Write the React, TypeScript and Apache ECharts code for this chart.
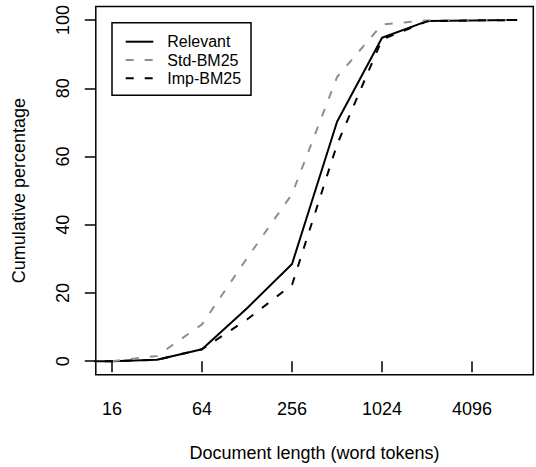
import React, { useEffect, useRef } from "react";
import * as echarts from "echarts";

// Document lengths (word tokens), one entry per bin
const lengths = [8, 16, 32, 64, 128, 256, 512, 1024, 2048, 4096, 8192];
// Cumulative percentages per series
const relevant = [0, 0, 0.4, 3.5, 15.5, 28.5, 70.2, 94.8, 99.7, 99.9, 100];
const stdBM25 = [null, 0, 1.5, 10.8, 30.2, 49, 83.3, 98.7, 99.9, 100, 100];
const impBM25 = [0, 0, 0.4, 3.5, 12.2, 22.4, 63.5, 94.3, 99.6, 99.9, 100];
// Tick labels
const xTicks = [16, 64, 256, 1024, 4096];
const yTicks = [0, 20, 40, 60, 80, 100];
const seriesNames = ["Relevant", "Std-BM25", "Imp-BM25"];
const seriesColors = ["#000000", "#8f8f8f", "#000000"];
const seriesDash: (number[] | null)[] = [null, [8, 11], [8, 11]];

export default function App() {
  const ref = useRef<HTMLDivElement>(null);
  useEffect(() => {
    const chart = echarts.init(ref.current as HTMLDivElement, null, { renderer: "svg" });
    const font = "'Liberation Sans', Arial, Helvetica, sans-serif";
    const toPts = (vals: (number | null)[]) =>
      lengths.map((l, i) => [Math.log2(l), vals[i]]);
    chart.setOption({
      animation: false,
      backgroundColor: "#ffffff",
      textStyle: { fontFamily: font },
      grid: {
        left: 95.8,
        right: 2.7,
        top: 6.4,
        bottom: 92.2,
        show: true,
        borderColor: "#000",
        borderWidth: 1.5,
        backgroundColor: "transparent",
      },
      xAxis: {
        type: "value",
        min: 3.64,
        max: 13.36,
        splitLine: { show: false },
        axisLine: { show: false },
        axisTick: {
          show: true,
          length: 11,
          customValues: xTicks.map((v) => Math.log2(v)),
          lineStyle: { color: "#000", width: 1.5 },
        },
        axisLabel: {
          customValues: xTicks.map((v) => Math.log2(v)),
          formatter: (v: number) => String(Math.round(Math.pow(2, v))),
          color: "#000",
          fontSize: 18,
          margin: 25,
          fontFamily: font,
        },
        name: "Document length (word tokens)",
        nameLocation: "middle",
        nameGap: 69,
        nameTextStyle: { fontSize: 18, color: "#000", fontFamily: font },
      },
      yAxis: {
        type: "value",
        min: -4,
        max: 104,
        splitLine: { show: false },
        axisLine: { show: false },
        axisTick: {
          show: true,
          length: 11,
          customValues: yTicks,
          lineStyle: { color: "#000", width: 1.5 },
        },
        axisLabel: { show: false },
        name: "Cumulative percentage",
        nameLocation: "middle",
        nameGap: 68,
        nameTextStyle: { fontSize: 18, color: "#000", fontFamily: font },
      },
      series: [
        { values: relevant },
        { values: stdBM25 },
        { values: impBM25 },
      ].map((s, i) => ({
        name: seriesNames[i],
        type: "line",
        symbol: "none",
        clip: true,
        data: toPts(s.values),
        lineStyle: {
          color: seriesColors[i],
          width: 2,
          type: seriesDash[i] ? seriesDash[i] : "solid",
        },
        itemStyle: { color: seriesColors[i] },
      })),
    });

    // Rotated y tick labels positioned through the y axis scale
    const yLabelEls = yTicks.map((v) => {
      const py = chart.convertToPixel({ yAxisIndex: 0 }, v) as number;
      return {
        type: "group",
        x: 63.3,
        y: py,
        rotation: Math.PI / 2,
        silent: true,
        children: [
          {
            type: "text",
            x: 0,
            y: 0,
            silent: true,
            style: {
              text: String(v),
              fontSize: 18,
              fontFamily: font,
              fill: "#000",
              align: "center",
              verticalAlign: "middle",
            },
          },
        ],
      };
    });

    // Legend box in R style
    const lx = 112;
    const ly = 22.7;
    const rowY = [19, 37.3, 55.6];
    const legendEls: any[] = [
      {
        type: "rect",
        shape: { x: lx, y: ly, width: 139, height: 72.6 },
        style: { fill: "#fff", stroke: "#000", lineWidth: 1.5 },
        silent: true,
      },
    ];
    seriesNames.forEach((name, i) => {
      legendEls.push({
        type: "line",
        shape: { x1: lx + 13.7, y1: ly + rowY[i], x2: lx + 41.3, y2: ly + rowY[i] },
        style: {
          stroke: seriesColors[i],
          lineWidth: 2,
          lineDash: seriesDash[i] ? seriesDash[i] : null,
        },
        silent: true,
      });
      legendEls.push({
        type: "text",
        x: lx + 55.3,
        y: ly + rowY[i],
        silent: true,
        style: {
          text: name,
          fontSize: 16,
          fontFamily: font,
          fill: "#000",
          align: "left",
          verticalAlign: "middle",
        },
      });
    });

    chart.setOption({ graphic: [...yLabelEls, ...legendEls] });
    return () => chart.dispose();
  }, []);
  return (
    <div
      ref={ref}
      style={{ position: "fixed", left: 0, top: 0, width: 536, height: 467, background: "#fff" }}
    />
  );
}
